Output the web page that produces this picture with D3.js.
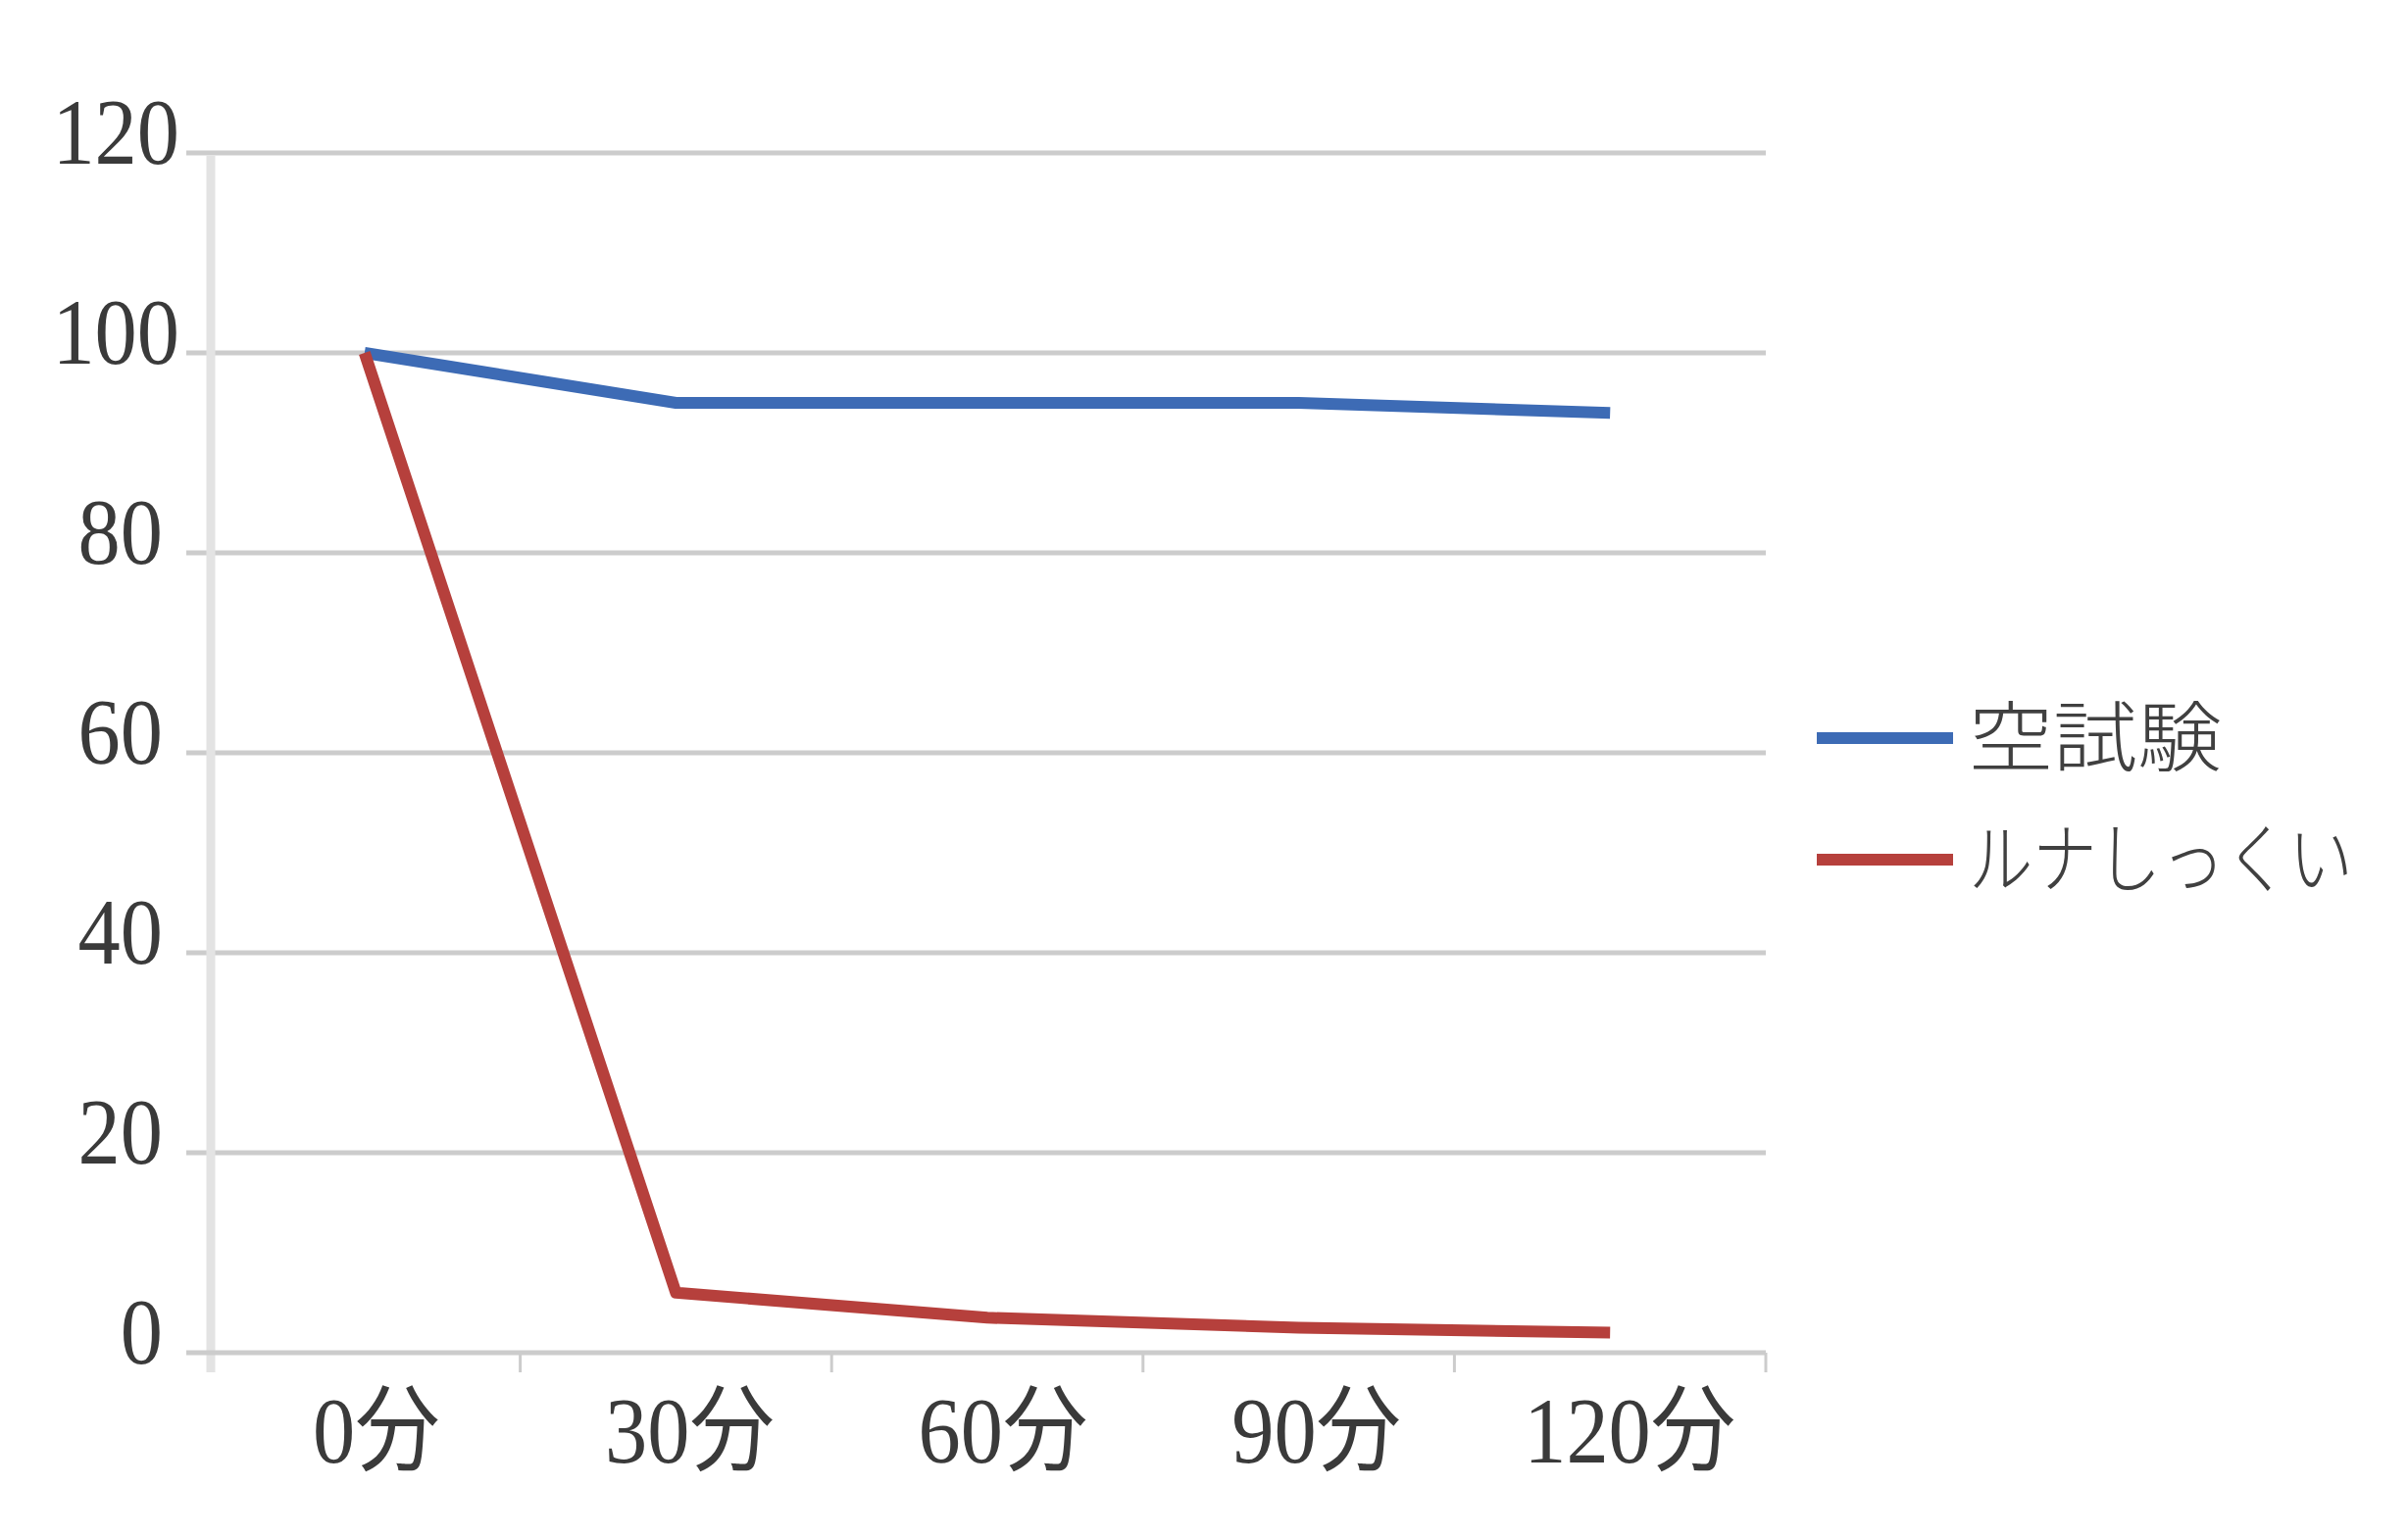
<!DOCTYPE html>
<html>
<head>
<meta charset="utf-8">
<script src="https://cdn.jsdelivr.net/npm/d3@7"></script>
<style>
  html, body { margin: 0; padding: 0; background: #ffffff; }
  svg { display: block; }
</style>
</head>
<body>
<svg id="chart" width="2456" height="1567"></svg>
<script>
// ---- data ----
const categories = ["0分", "30分", "60分", "90分", "120分"];
const seriesNames = ["空試験", "ルナしっくい"];
const blankValues = [100, 95, 95, 95, 94];
const lunaValues = [100, 6, 3.5, 2.5, 2];
const yTicks = [0, 20, 40, 60, 80, 100, 120];
const seriesColors = ["#3d6bb5", "#b6403c"];

// ---- layout ----
const svg = d3.select("#chart");
svg.append("rect").attr("width", 2456).attr("height", 1567).attr("fill", "#ffffff");

const plotLeft = 213, plotRight = 1801, plotTop = 156, plotBottom = 1380;
const x = d3.scaleBand().domain(categories).range([plotLeft, plotRight]).padding(0);
const y = d3.scaleLinear().domain([0, 120]).range([plotBottom, plotTop]);
const cx = c => x(c) + x.bandwidth() / 2;

const numFont = "'Liberation Serif', 'Noto Sans CJK JP', serif";

// gridlines
svg.append("g").selectAll("line").data(yTicks.filter(v => v !== 0)).join("line")
  .attr("x1", 190).attr("x2", plotRight)
  .attr("y1", d => y(d)).attr("y2", d => y(d))
  .attr("stroke", "#cccccc").attr("stroke-width", 5);

// y axis line (lighter, wider)
svg.append("line")
  .attr("x1", plotLeft + 2).attr("x2", plotLeft + 2)
  .attr("y1", y(120) + 3).attr("y2", plotBottom + 20)
  .attr("stroke", "#e3e3e3").attr("stroke-width", 9);

// x axis line
svg.append("line")
  .attr("x1", 190).attr("x2", plotRight)
  .attr("y1", y(0)).attr("y2", y(0))
  .attr("stroke", "#cccccc").attr("stroke-width", 5);

// x ticks at band boundaries
const boundaries = categories.map(c => x(c)).concat([x(categories[categories.length - 1]) + x.bandwidth()]);
svg.append("g").selectAll("line").data(boundaries.slice(1)).join("line")
  .attr("x1", d => d).attr("x2", d => d)
  .attr("y1", y(0)).attr("y2", y(0) + 20)
  .attr("stroke", "#cccccc").attr("stroke-width", 3);

// y tick labels
svg.append("g").selectAll("text").data(yTicks).join("text")
  .attr("transform", d => `translate(${d >= 100 ? 183 : 166},${y(d) - 21}) scale(0.9,1)`)
  .attr("text-anchor", "end")
  .attr("dominant-baseline", "central")
  .attr("font-family", numFont)
  .attr("font-size", 96)
  .attr("fill", "#3a3a3a")
  .text(d => d);

// x tick labels
svg.append("g").selectAll("text").data(categories).join("text")
  .attr("transform", (d, i) => `translate(${cx(d) + 12 + i * 2},1460) scale(0.9,1)`)
  .attr("text-anchor", "middle")
  .attr("dominant-baseline", "central")
  .attr("font-family", numFont)
  .attr("font-size", 96)
  .attr("fill", "#3a3a3a")
  .text(d => d);

// lines
const line = d3.line().x((d, i) => cx(categories[i])).y(d => y(d));
[blankValues, lunaValues].forEach((vals, i) => {
  svg.append("path")
    .datum(vals)
    .attr("d", line)
    .attr("fill", "none")
    .attr("stroke", seriesColors[i])
    .attr("stroke-width", 12)
    .attr("stroke-linejoin", "round");
});

// legend
const legendY = [753, 877];
const legendTextWidth = [258, 392];
seriesNames.forEach((name, i) => {
  svg.append("line")
    .attr("x1", 1853).attr("x2", 1992)
    .attr("y1", legendY[i]).attr("y2", legendY[i])
    .attr("stroke", seriesColors[i]).attr("stroke-width", 12);
  const t = svg.append("text")
    .attr("x", 0).attr("y", 0)
    .attr("dominant-baseline", "central")
    .attr("font-family", "'Noto Sans CJK JP', sans-serif")
    .attr("font-weight", 300)
    .attr("font-size", 78)
    .attr("fill", "#404040")
    .text(name);
  const natural = t.node().getComputedTextLength() || legendTextWidth[i];
  const sx = Math.min(1.12, legendTextWidth[i] / natural);
  t.attr("transform", `translate(2008,${legendY[i] - 6}) scale(${sx},1)`);
});
</script>
</body>
</html>
